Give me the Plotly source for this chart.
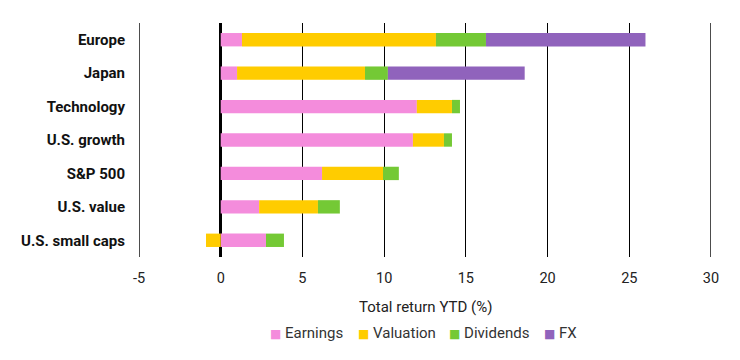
import plotly.graph_objects as go

categories = ["Europe", "Japan", "Technology", "U.S. growth", "S&P 500", "U.S. value", "U.S. small caps"]
earnings = [1.3, 1.0, 12.0, 11.76, 6.2, 2.35, 2.77]
valuation = [11.87, 7.83, 2.15, 1.9, 3.73, 3.6, -0.9]
dividends = [3.06, 1.4, 0.49, 0.49, 0.97, 1.34, 1.1]
fx = [9.76, 8.37, 0, 0, 0, 0, 0]

series_names = ["Earnings", "Valuation", "Dividends", "FX"]
series_values = [earnings, valuation, dividends, fx]
series_colors = ["#F48CDC", "#FFCC00", "#74C935", "#9063BC"]

tick_vals = [-5, 0, 5, 10, 15, 20, 25, 30]
tick_text = ["-5", "0", "5", "10", "15", "20", "25", "30"]
legend_x = [0.2250, 0.3789, 0.5379, 0.7040]  # left edge of each legend item (paper)

fig = go.Figure()
for name, vals, col in zip(series_names, series_values, series_colors):
    fig.add_trace(go.Bar(
        y=categories, x=vals, name=name, orientation="h",
        marker=dict(color=col, line=dict(width=0)),
        hoverinfo="x+name", showlegend=False,
    ))

annotations = [dict(text="Total return YTD (%)", x=0.5, xref="paper", y=-0.212, yref="paper",
                    xanchor="center", yanchor="middle", showarrow=False,
                    font=dict(size=15, color="#222222"))]
for name, col, lx in zip(series_names, series_colors, legend_x):
    annotations.append(dict(
        text=f"<span style='color:{col};font-size:12px;font-family:DejaVu Sans'>■</span> {name}",
        x=lx, xref="paper", y=-0.325, yref="paper", xanchor="left", yanchor="middle",
        showarrow=False, font=dict(size=15, color="#333333")))

# gridlines at the range ends (plotly omits gridlines on the plot edges)
edge_lines = [dict(type="line", xref="x", yref="paper", x0=v, x1=v, y0=0, y1=1,
                   line=dict(color="black", width=1.4), layer="below")
              for v in (tick_vals[0], tick_vals[-1])]

fig.update_layout(
    width=732, height=352,
    margin=dict(l=131.3, r=28.7, t=15, b=103),
    barmode="relative",
    bargap=0.6,
    plot_bgcolor="white", paper_bgcolor="white",
    font=dict(family="Roboto, Inter, sans-serif", color="#222222", size=14),
    showlegend=False,
    xaxis=dict(range=[-5, 30], tickvals=tick_vals, ticktext=tick_text, showgrid=True,
               gridcolor="black", gridwidth=1.4, zeroline=True, zerolinecolor="black",
               zerolinewidth=3, showline=False, ticks="", ticklabelstandoff=10,
               tickfont=dict(size=14.5, color="#222222")),
    yaxis=dict(categoryorder="array", categoryarray=categories, autorange="reversed",
               showgrid=False, ticks="", ticklabelstandoff=13,
               tickfont=dict(size=15, color="#111111", family="Roboto, sans-serif", weight="bold")),
    annotations=annotations,
    shapes=edge_lines,
)

fig.write_html("out.html")
